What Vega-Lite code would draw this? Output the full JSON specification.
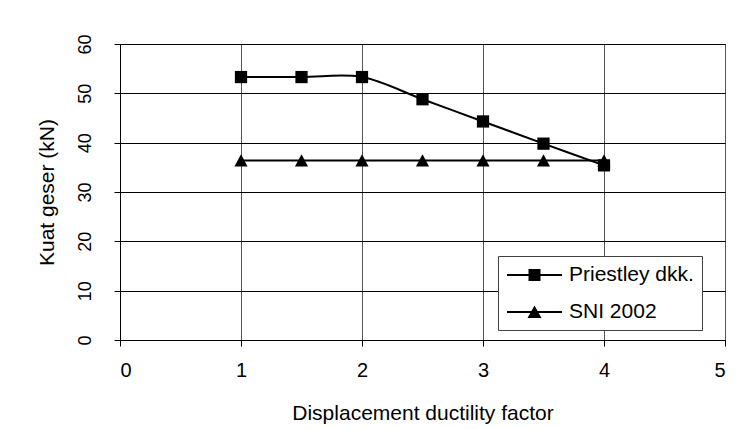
{
  "$schema": "https://vega.github.io/schema/vega-lite/v6.json",
  "width": 605,
  "height": 296,
  "autosize": {"type": "none"},
  "padding": {"left": 120, "top": 44, "right": 22, "bottom": 89},
  "background": "white",
  "config": {
    "font": "Liberation Sans",
    "view": {"stroke": "black", "strokeWidth": 1},
    "axis": {
      "labelFont": "Liberation Sans",
      "titleFont": "Liberation Sans",
      "labelFontSize": 20,
      "titleFontSize": 21,
      "titleFontWeight": "normal",
      "labelColor": "black",
      "titleColor": "black",
      "domainColor": "black",
      "tickColor": "black",
      "gridColor": "black",
      "gridOpacity": 1,
      "tickSize": 6,
      "domainWidth": 1,
      "gridWidth": 1
    },
    "legend": {
      "labelFont": "Liberation Sans",
      "labelFontSize": 21,
      "labelColor": "black"
    }
  },
  "data": {
    "values": [
      {"factor": 1.0, "kuat": 53.3, "series": "Priestley dkk."},
      {"factor": 1.5, "kuat": 53.3, "series": "Priestley dkk."},
      {"factor": 2.0, "kuat": 53.3, "series": "Priestley dkk."},
      {"factor": 2.5, "kuat": 48.8, "series": "Priestley dkk."},
      {"factor": 3.0, "kuat": 44.3, "series": "Priestley dkk."},
      {"factor": 3.5, "kuat": 39.8, "series": "Priestley dkk."},
      {"factor": 4.0, "kuat": 35.4, "series": "Priestley dkk."},
      {"factor": 1.0, "kuat": 36.4, "series": "SNI 2002"},
      {"factor": 1.5, "kuat": 36.4, "series": "SNI 2002"},
      {"factor": 2.0, "kuat": 36.4, "series": "SNI 2002"},
      {"factor": 2.5, "kuat": 36.4, "series": "SNI 2002"},
      {"factor": 3.0, "kuat": 36.4, "series": "SNI 2002"},
      {"factor": 3.5, "kuat": 36.4, "series": "SNI 2002"},
      {"factor": 4.0, "kuat": 36.4, "series": "SNI 2002"}
    ]
  },
  "encoding": {
    "x": {
      "field": "factor",
      "type": "quantitative",
      "scale": {"domain": [0, 5], "nice": false, "zero": false},
      "axis": {
        "values": [0, 1, 2, 3, 4, 5],
        "title": "Displacement ductility factor",
        "labelPadding": 14,
        "titlePadding": 22,
        "gridColor": "#555555"
      }
    },
    "y": {
      "field": "kuat",
      "type": "quantitative",
      "scale": {"domain": [0, 60], "nice": false},
      "axis": {
        "values": [0, 10, 20, 30, 40, 50, 60],
        "title": "Kuat geser (kN)",
        "labelAngle": 270,
        "labelFontSize": 18,
        "labelPadding": 20,
        "titlePadding": 19
      }
    }
  },
  "resolve": {"scale": {"shape": "independent"}},
  "layer": [
    {
      "mark": {"type": "line", "color": "black", "strokeWidth": 2, "interpolate": "cardinal"},
      "encoding": {"detail": {"field": "series", "type": "nominal"}}
    },
    {
      "mark": {"type": "point", "filled": true, "color": "black", "opacity": 1, "size": 150},
      "encoding": {
        "shape": {
          "field": "series",
          "type": "nominal",
          "scale": {"domain": ["Priestley dkk.", "SNI 2002"], "range": ["square", "M0,-1L1.07,1H-1.07Z"]},
          "legend": null
        }
      }
    },
    {
      "transform": [{"filter": "datum.factor > 100"}],
      "mark": {"type": "point", "filled": true, "color": "black", "opacity": 1, "size": 400},
      "encoding": {
        "shape": {
          "field": "series",
          "type": "nominal",
          "scale": {
            "domain": ["Priestley dkk.", "SNI 2002"],
            "range": [
              "M-1,-0.09H4.5V0.09H-1ZM1.15,-0.6H2.35V0.6H1.15Z",
              "M-1,-0.09H4.5V0.09H-1ZM1.75,-0.65L2.45,0.6H1.05Z"
            ]
          },
          "legend": {
            "title": null,
            "orient": "none",
            "legendX": 378,
            "legendY": 212,
            "padding": 8,
            "strokeColor": "#404040",
            "fillColor": "white",
            "symbolSize": 400,
            "symbolFillColor": "black",
            "labelOffset": 41,
            "rowPadding": 16
          }
        }
      }
    }
  ]
}
